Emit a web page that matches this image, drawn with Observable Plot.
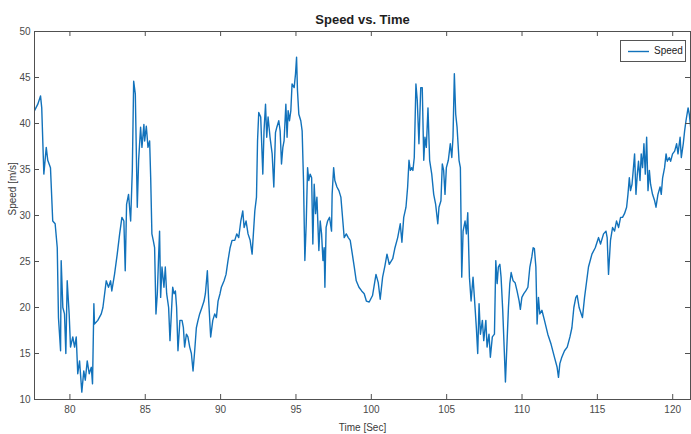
<!DOCTYPE html>
<html>
<head>
<meta charset="utf-8">
<script src="https://cdn.jsdelivr.net/npm/d3@7"></script>
<script src="https://cdn.jsdelivr.net/npm/@observablehq/plot@0.6"></script>
<style>
  html, body { margin: 0; padding: 0; background: #fff; }
  #wrap { position: relative; width: 691px; height: 434px; font-family: "Liberation Sans", Arial, sans-serif; }
  #legend { position: absolute; left: 620px; top: 40px; width: 64px; height: 20px; border: 1px solid #555; background: #fff; box-sizing: content-box; }
  #legend svg { position: absolute; left: 0; top: 0; }
  #legend span { position: absolute; left: 33px; top: 4px; font-size: 10px; color: #222; line-height: 12px; }
</style>
</head>
<body>
<div id="wrap"></div>
<script>
const time = [
  77.65, 77.87, 78.05, 78.13, 78.27, 78.43, 78.53, 78.71, 78.86, 79.02, 79.16, 79.24, 79.38, 79.42, 79.53, 79.64, 79.73, 79.82, 79.95, 80.04,
  80.19, 80.31, 80.42, 80.52, 80.64, 80.79, 80.92, 81.02, 81.15, 81.28, 81.42, 81.50, 81.59, 81.63, 81.85, 82.08, 82.19, 82.41, 82.56, 82.70,
  82.78, 82.96, 83.14, 83.30, 83.45, 83.58, 83.67, 83.76, 83.89, 84.03, 84.14, 84.23, 84.34, 84.47, 84.56, 84.69, 84.78, 84.91,
  84.96, 85.07, 85.18, 85.29, 85.36, 85.44, 85.53, 85.62, 85.71, 85.80, 85.89, 85.95, 86.02, 86.11, 86.24, 86.33, 86.42, 86.55, 86.64, 86.73,
  86.82, 86.91, 87.00, 87.08, 87.17, 87.30, 87.44, 87.53, 87.61, 87.73, 87.83, 87.95, 88.06, 88.17, 88.28, 88.39, 88.50, 88.61, 88.76, 88.90,
  88.99, 89.12, 89.21, 89.34, 89.48, 89.61, 89.72, 89.83, 89.96, 90.05, 90.23, 90.36, 90.49, 90.63, 90.76, 90.94, 91.07, 91.20, 91.34, 91.47,
  91.56, 91.69, 91.82, 91.96, 92.09,
  92.27, 92.38, 92.45, 92.53, 92.66, 92.80, 92.88, 92.98, 93.06, 93.15, 93.28, 93.42, 93.53, 93.64, 93.73, 93.86, 93.95, 94.04, 94.13, 94.21,
  94.33, 94.41, 94.48, 94.57, 94.66, 94.74, 94.88, 94.97, 95.04, 95.10, 95.19, 95.32, 95.41, 95.50, 95.59, 95.68, 95.77, 95.85, 95.94, 96.04,
  96.12, 96.21, 96.30, 96.39, 96.52, 96.61, 96.70, 96.79, 96.87, 96.92, 97.00, 97.10, 97.23, 97.36, 97.40, 97.50, 97.58, 97.72, 97.85, 97.98,
  98.11, 98.20, 98.34, 98.47, 98.60, 98.74, 98.87, 99.00, 99.18, 99.36, 99.53, 99.67,
  99.86, 100.08, 100.31, 100.46, 100.59, 100.75, 100.90, 101.04, 101.19, 101.42, 101.57, 101.75, 101.92, 102.03, 102.15, 102.30, 102.41,
  102.50, 102.59, 102.68, 102.76, 102.85, 102.96, 103.05, 103.16, 103.28, 103.38, 103.48, 103.56, 103.65, 103.76, 103.87, 104.01, 104.14, 104.27,
  104.41, 104.49, 104.62, 104.71, 104.80, 104.89, 104.98, 105.11, 105.24, 105.34, 105.42, 105.51, 105.60, 105.69, 105.82, 105.91,
  106.00, 106.09, 106.22, 106.31, 106.40, 106.51, 106.62, 106.75, 106.84, 106.97, 107.06, 107.15, 107.24, 107.37, 107.46, 107.60, 107.68, 107.81,
  107.90, 108.03, 108.17, 108.26, 108.35, 108.43, 108.53, 108.61, 108.72, 108.83, 108.90, 109.01, 109.10, 109.19, 109.28, 109.41, 109.54, 109.67,
  109.81, 109.89, 109.99, 110.12, 110.25, 110.39, 110.52, 110.65, 110.74, 110.82, 110.92, 111.00, 111.09, 111.18, 111.32, 111.49, 111.71, 111.93,
  112.15, 112.33, 112.42, 112.51, 112.64, 112.82, 113.00, 113.18, 113.31, 113.44, 113.57, 113.66, 113.79, 113.93, 114.01, 114.15,
  114.41, 114.64, 114.86, 115.08, 115.21, 115.41, 115.57, 115.65, 115.74, 115.87, 116.01, 116.14, 116.27, 116.41, 116.54, 116.67, 116.80, 116.94,
  117.03, 117.12, 117.20, 117.30, 117.38, 117.47, 117.56, 117.65, 117.73, 117.83, 117.91, 118.00, 118.09, 118.18, 118.27, 118.36, 118.45, 118.53,
  118.66, 118.80, 118.89, 119.02, 119.16, 119.24, 119.33, 119.46, 119.56, 119.64, 119.77, 119.86, 119.99, 120.13, 120.26, 120.35, 120.49, 120.57,
  120.70, 120.79, 120.88, 121.02, 121.10, 121.19, 121.30
];
const speed = [
  41.4, 42.1, 43.0, 41.7, 34.5, 37.4, 36.0, 35.2, 29.4, 29.1, 26.5, 18.9, 15.3, 25.1, 20.0, 19.3, 15.0, 22.9, 19.3, 15.7,
  16.8, 15.7, 16.8, 12.8, 14.2, 10.8, 13.1, 12.1, 14.2, 12.8, 13.5, 11.7, 20.4, 18.2, 18.6, 19.3, 20.0, 22.9, 22.2, 22.9,
  21.8, 23.6, 25.8, 28.0, 29.8, 29.4, 24.0, 31.2, 32.3, 29.4, 34.9, 44.6, 43.2, 30.9, 36.0, 39.6, 37.4, 39.9,
  38.1, 39.7, 37.4, 38.1, 34.1, 28.0, 27.3, 26.5, 19.3, 21.5, 25.8, 28.3, 21.1, 24.4, 22.2, 24.4, 21.5, 20.0, 16.4, 19.3,
  22.2, 21.5, 21.8, 20.0, 15.3, 18.6, 18.6, 17.8, 15.7, 17.1, 16.8, 15.7, 15.0, 13.1, 15.3, 17.8, 18.6, 19.3, 20.0, 20.7,
  21.5, 24.0, 20.7, 16.8, 18.6, 19.3, 18.9, 20.7, 21.5, 22.2, 22.9, 23.6, 25.1, 26.5, 27.3, 27.3, 28.0, 27.6, 29.4, 30.5,
  28.7, 29.4, 28.0, 27.3, 25.8,
  30.5, 32.0, 38.1, 41.2, 40.7, 34.5, 39.2, 42.1, 38.5, 40.7, 38.5, 36.7, 33.1, 39.0, 39.6, 40.3, 39.2, 35.6, 37.4, 38.1,
  42.1, 38.5, 41.4, 40.3, 41.4, 44.3, 43.9, 45.4, 47.2, 43.6, 41.0, 40.3, 39.2, 33.8, 25.1, 29.1, 35.2, 33.8, 34.5, 34.1,
  26.9, 33.4, 30.2, 32.0, 26.2, 29.4, 28.0, 25.1, 26.5, 22.2, 28.7, 29.4, 29.8, 28.3, 32.3, 35.2, 33.8, 33.1, 32.7, 32.0,
  29.4, 27.6, 28.0, 27.6, 27.3, 25.8, 24.4, 22.9, 22.2, 21.8, 21.5, 20.7,
  20.6, 21.3, 23.6, 22.7, 20.9, 23.3, 24.5, 25.8, 24.7, 25.3, 26.5, 27.6, 29.1, 27.1, 29.8, 30.9, 33.1,
  36.0, 34.9, 35.2, 34.9, 36.3, 44.3, 42.5, 37.8, 43.9, 43.9, 36.0, 38.5, 37.4, 41.7, 36.0, 34.5, 32.3, 31.2,
  29.1, 30.9, 31.6, 35.6, 34.9, 32.3, 35.2, 36.0, 37.8, 36.3, 38.5, 45.4, 41.0, 39.6, 36.0, 35.2,
  23.3, 28.3, 29.4, 28.0, 30.3, 23.3, 20.7, 23.3, 21.1, 17.8, 15.0, 20.4, 17.1, 18.6, 16.4, 18.6, 15.7, 17.1,
  14.6, 16.8, 17.1, 25.1, 22.6, 24.4, 24.7, 23.3, 19.7, 15.0, 11.9, 16.4, 20.0, 22.6, 23.8, 22.9, 22.7, 21.8,
  20.7, 19.8, 21.1, 21.5, 21.8, 22.2, 24.4, 25.5, 26.5, 26.4, 24.4, 18.2, 21.1, 19.3, 19.7, 18.6, 17.1, 16.0,
  14.6, 13.5, 12.4, 13.9, 14.6, 15.3, 15.7, 16.8, 17.8, 20.0, 21.1, 21.3, 20.0, 19.3, 18.9, 21.1,
  24.4, 25.8, 26.5, 27.6, 26.9, 28.0, 28.3, 27.6, 23.6, 27.3, 28.7, 28.3, 29.4, 28.7, 29.8, 29.8, 30.2, 30.9,
  32.3, 34.1, 32.7, 33.4, 34.9, 36.7, 32.3, 34.5, 35.9, 33.8, 36.7, 35.2, 37.8, 34.5, 38.5, 32.7, 34.9, 33.4,
  32.3, 31.6, 30.9, 32.3, 33.1, 32.3, 34.1, 35.2, 36.7, 35.9, 36.3, 35.9, 36.7, 37.0, 37.8, 36.7, 38.5, 36.3,
  37.8, 39.2, 40.3, 41.7, 41.0, 39.6, 36.5
];
const xTicks = [80, 85, 90, 95, 100, 105, 110, 115, 120];
const yTicks = [10, 15, 20, 25, 30, 35, 40, 45, 50];
const seriesName = "Speed";
const titleText = "Speed vs. Time";
const xLabel = "Time [Sec]";
const yLabel = "Speed [m/s]";

const rows = time.map((t, i) => ({t, v: speed[i]}));
const W = 691, H = 434, mL = 34, mR = 1, mT = 31, mB = 35;
const frameW = W - mL - mR, frameH = H - mT - mB;
const axisColor = "#505050";

const chart = Plot.plot({
  width: W, height: H,
  marginLeft: mL, marginRight: mR, marginTop: mT, marginBottom: mB,
  style: {fontFamily: "'Liberation Sans', Arial, sans-serif", fontSize: "10px", background: "#fff", color: "#4a4a4a", overflow: "visible"},
  x: {domain: [77.65, 121.18]},
  y: {domain: [10, 50]},
  marks: [
    Plot.line(rows, {x: "t", y: "v", stroke: "#1272bb", strokeWidth: 1.4, clip: true}),
    Plot.frame({stroke: axisColor, strokeWidth: 1}),
    Plot.tickX(xTicks, {insetTop: frameH - 5, stroke: axisColor}),
    Plot.tickX(xTicks, {insetBottom: frameH - 5, stroke: axisColor}),
    Plot.tickY(yTicks, {insetRight: frameW - 5, stroke: axisColor}),
    Plot.tickY(yTicks, {insetLeft: frameW - 5, stroke: axisColor}),
    Plot.axisX({ticks: xTicks, tickSize: 0, tickPadding: 6, label: null, tickFormat: d => String(d)}),
    Plot.axisY({ticks: yTicks, tickSize: 0, tickPadding: 4, label: null, tickFormat: d => String(d)}),
    Plot.text([titleText], {frameAnchor: "top", dy: -17, fontWeight: "bold", fontSize: 13, fill: "#1e1e1e"}),
    Plot.text([xLabel], {frameAnchor: "bottom", dy: 31, fontSize: 10, fill: "#3a3a3a"}),
    Plot.text([yLabel], {frameAnchor: "left", dx: -22, rotate: -90, fontSize: 10, fill: "#3a3a3a"})
  ]
});

const wrap = document.getElementById("wrap");
wrap.appendChild(chart);

const legend = document.createElement("div");
legend.id = "legend";
legend.innerHTML = `<svg width="64" height="20"><line x1="7" x2="28" y1="10.5" y2="10.5" stroke="#1272bb" stroke-width="1.4"/></svg><span>${seriesName}</span>`;
wrap.appendChild(legend);
</script>
</body>
</html>
